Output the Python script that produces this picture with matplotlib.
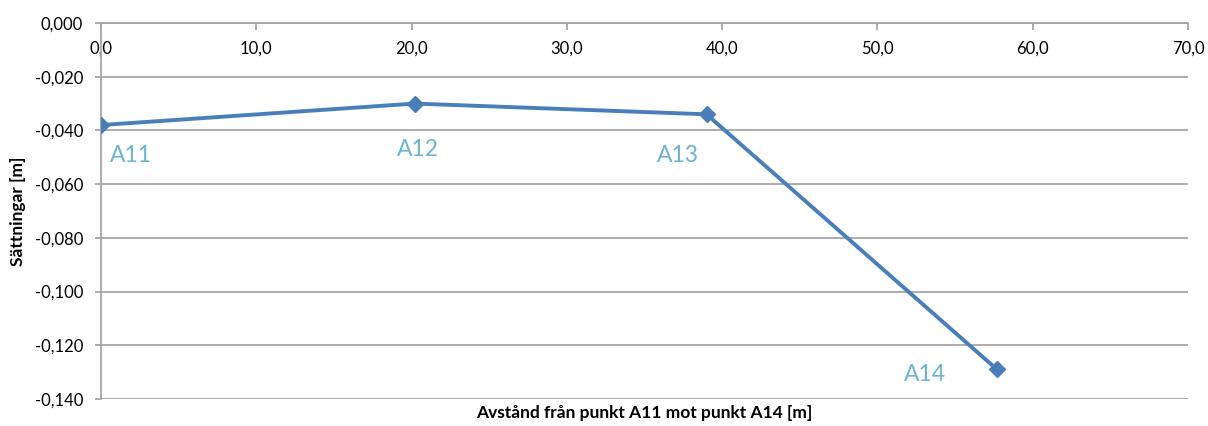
import matplotlib
matplotlib.use("Agg")
import matplotlib.pyplot as plt
from matplotlib.ticker import FuncFormatter, MultipleLocator

plt.rcParams['font.family'] = ['Lato', 'DejaVu Sans']

# Settlement along the section A11 -> A14
distance = [0.0, 20.2, 39.0, 57.7]
settlement = [-0.038, -0.030, -0.034, -0.129]
point_names = ["A11", "A12", "A13", "A14"]
label_offsets_px = [(30, -30), (3, -46), (-29, -41), (-72, -5)]

line_color = "#4a7ebb"
label_color = "#6db3d3"
grid_color = "#a6a6a6"

fig = plt.figure(figsize=(12.08, 4.26), dpi=100)
ax = fig.add_axes([101 / 1208, 1 - 399 / 426, (1188 - 101) / 1208, (399 - 23) / 426])

ax.plot(distance, settlement, color=line_color, lw=2.8, marker="D", ms=8,
        markerfacecolor=line_color, markeredgecolor=line_color, zorder=3,
        solid_joinstyle="miter")

for x, y, name, off in zip(distance, settlement, point_names, label_offsets_px):
    ax.annotate(name, (x, y), xytext=off, textcoords="offset pixels",
                ha="center", va="center", fontsize=16.5, color=label_color)

ax.set_xlim(0, 70)
ax.set_ylim(-0.14, 0.0)
ax.xaxis.set_major_locator(MultipleLocator(10))
ax.yaxis.set_major_locator(MultipleLocator(0.02))
ax.xaxis.set_major_formatter(FuncFormatter(lambda v, p: f"{v:.1f}".replace(".", ",")))
ax.yaxis.set_major_formatter(FuncFormatter(lambda v, p: f"{v:.3f}".replace(".", ",") if abs(v) > 1e-9 else "0,000"))

ax.grid(axis="y", color=grid_color, lw=1.3)
ax.set_axisbelow(True)

for s in ["top", "right"]:
    ax.spines[s].set_visible(False)
ax.spines["bottom"].set_position(("data", 0))
ax.spines["bottom"].set_color(grid_color)
ax.spines["bottom"].set_linewidth(1.3)
ax.spines["left"].set_color(grid_color)
ax.spines["left"].set_linewidth(1.3)

ax.tick_params(axis="x", direction="out", length=5, width=1.3, color=grid_color,
               labelsize=12, pad=8)
ax.tick_params(axis="y", direction="out", length=4, width=1.3, color=grid_color,
               labelsize=12, pad=9)

fig.text(18 / 1208, 1 - 211 / 426, "Sättningar [m]", rotation=90,
         ha="center", va="center", fontsize=12.5, fontweight="bold")
fig.text((101 + 1188) / 2 / 1208, 1 - 413 / 426, "Avstånd från punkt A11 mot punkt A14 [m]",
         ha="center", va="center", fontsize=12.5, fontweight="bold")

fig.savefig("out.png", dpi=100)
